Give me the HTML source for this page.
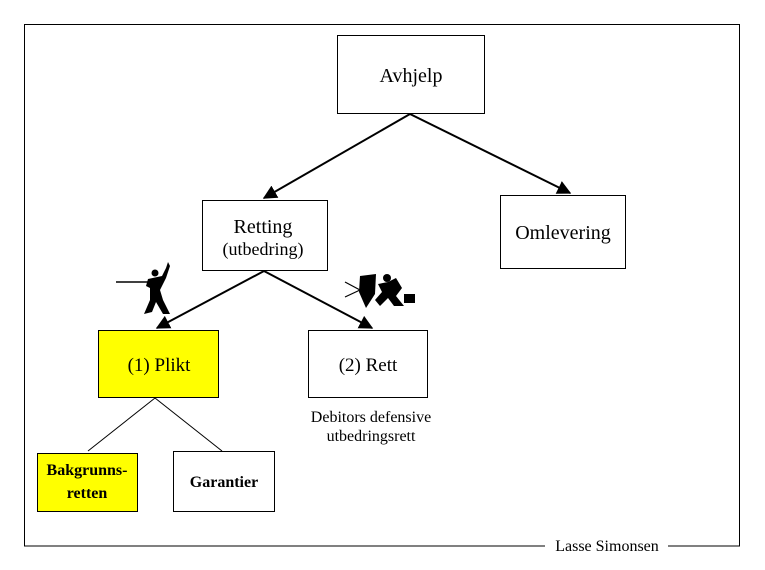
<!DOCTYPE html>
<html><head><meta charset="utf-8"><style>
html,body{margin:0;padding:0;background:#fff}
svg{display:block}
text{font-family:"Liberation Serif",serif;fill:#000}
</style></head><body>
<svg width="765" height="570" viewBox="0 0 765 570" xmlns="http://www.w3.org/2000/svg">
<defs><marker id="a" viewBox="0 0 10 10" refX="9" refY="5" markerWidth="7" markerHeight="7" orient="auto"><path d="M0,0 L10,5 L0,10 z" fill="#000"/></marker></defs>
<g fill="none" stroke="#000" stroke-width="1">
<path d="M545,546 H24.5 V24.5 H739.5 V546 H668"/>
<rect x="337.5" y="35.5" width="147" height="78"/>
<rect x="202.5" y="200.5" width="125" height="70"/>
<rect x="500.5" y="195.5" width="125" height="73"/>
<rect x="98.5" y="330.5" width="120" height="67" fill="#ffff00"/>
<rect x="308.5" y="330.5" width="119" height="67"/>
<rect x="37.5" y="453.5" width="100" height="58" fill="#ffff00"/>
<rect x="173.5" y="451.5" width="101" height="60"/>
<line x1="155" y1="398" x2="88" y2="451"/>
<line x1="155" y1="398" x2="222" y2="451"/>
</g>
<g stroke="#000" stroke-width="2" marker-end="url(#a)">
<line x1="410" y1="114" x2="264" y2="198"/>
<line x1="410" y1="114" x2="570" y2="193"/>
<line x1="264" y1="271" x2="157" y2="328"/>
<line x1="264" y1="271" x2="372" y2="328"/>
</g>
<g fill="#000" stroke="#000">
<line x1="116" y1="282" x2="150" y2="282" stroke-width="1.5"/>
<path d="M148,279 L162,276 L166,268 L168,262 L170,266 L166,278 L160,290 L163,300 L170,314 L163,314 L156,302 L152,312 L144,314 L150,300 L150,288 L146,286 Z" stroke="none"/>
<circle cx="155" cy="273" r="3.5" stroke="none"/>
<path d="M360,276 L376,274 L375,294 L366,308 L359,292 Z" stroke="none"/>
<path d="M345,282 L360,290 M345,297 L360,290" fill="none" stroke-width="1.2"/>
<path d="M378,284 L388,282 L396,278 L402,288 L396,296 L404,306 L394,306 L388,298 L380,306 L375,300 L382,292 Z" stroke="none"/>
<circle cx="387" cy="278" r="4" stroke="none"/>
<rect x="404" y="294" width="11" height="9" stroke="none"/>
</g>
<g text-anchor="middle">
<text x="411" y="82" font-size="20">Avhjelp</text>
<text x="263" y="233" font-size="20">Retting</text>
<text x="263" y="255" font-size="18">(utbedring)</text>
<text x="563" y="239" font-size="20">Omlevering</text>
<text x="159" y="371" font-size="19">(1) Plikt</text>
<text x="368" y="371" font-size="19">(2) Rett</text>
<text x="371" y="422" font-size="16">Debitors defensive</text>
<text x="371" y="441" font-size="16">utbedringsrett</text>
<text x="87" y="475" font-size="16" font-weight="bold">Bakgrunns-</text>
<text x="87" y="498" font-size="16" font-weight="bold">retten</text>
<text x="224" y="487" font-size="16" font-weight="bold">Garantier</text>
<text x="607" y="551" font-size="16">Lasse Simonsen</text>
</g>
</svg>
</body></html>
